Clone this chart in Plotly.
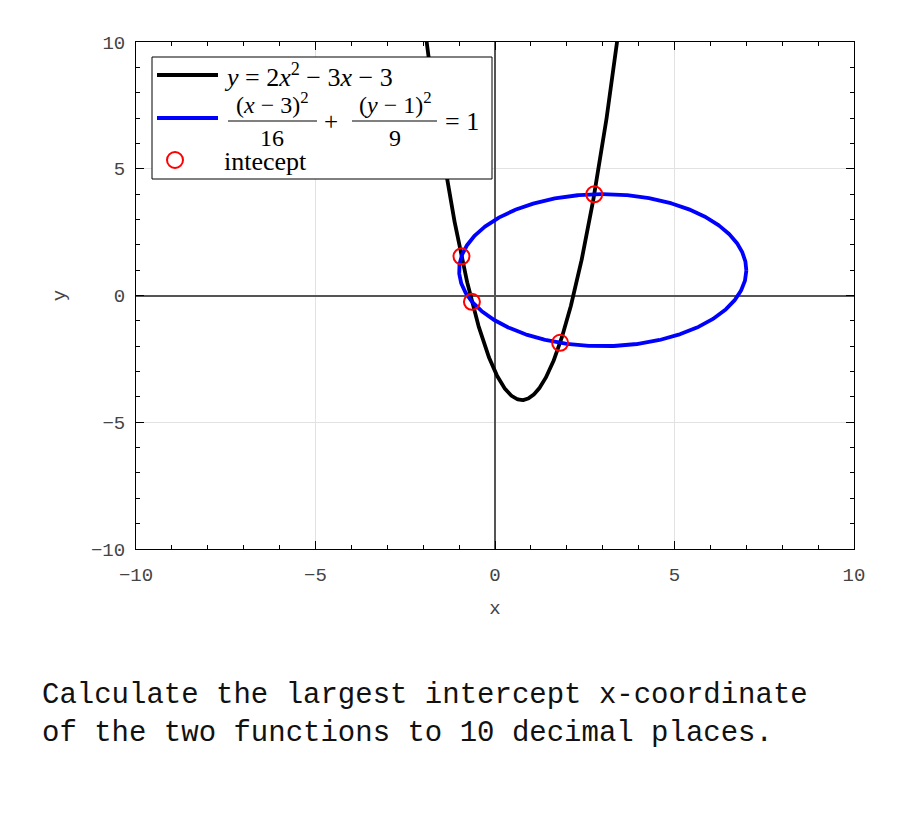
import numpy as np
import plotly.graph_objects as go

# Parabola y = a x^2 + b x + c
parab_coef = [2, -3, -3]
# Ellipse (x-h)^2/A + (y-k)^2/B = 1
ell_center = [3, 1]
ell_den = [16, 9]
# Intercept points
icpt_x = [-0.934, -0.643, 1.813, 2.765]
icpt_y = [1.545, -0.25, -1.865, 3.99]

xticks = [-10, -5, 0, 5, 10]
yticks = [-10, -5, 0, 5, 10]

a, b, c = parab_coef
px = np.linspace(-2.2, 3.7, 600)
py = a * px**2 + b * px + c

h, k = ell_center
t = np.linspace(0, 2 * np.pi, 800)
ex = h + np.sqrt(ell_den[0]) * np.cos(t)
ey = k + np.sqrt(ell_den[1]) * np.sin(t)

fig = go.Figure()
fig.add_trace(go.Scatter(x=px, y=py, mode="lines", line=dict(color="black", width=3.8), showlegend=False))
fig.add_trace(go.Scatter(x=ex, y=ey, mode="lines", line=dict(color="#0000ff", width=3.8), showlegend=False))
fig.add_trace(go.Scatter(x=icpt_x, y=icpt_y, mode="markers",
                         marker=dict(symbol="circle-open", size=16, color="#ff0000", line=dict(width=2)),
                         showlegend=False))

# reference plot-area pixel box
L, R, T, B = 136, 854, 42, 549
W, H = 900, 825
OFF = 8  # page body offset

def pxx(p):
    return (p - L) / (R - L)

def pxy(p):
    return (B - p) / (B - T)

shapes = []
ann = []
# legend box
shapes.append(dict(type="rect", xref="paper", yref="paper", x0=pxx(152), x1=pxx(492), y0=pxy(179), y1=pxy(57),
                   line=dict(color="black", width=1), fillcolor="white", layer="above"))
shapes.append(dict(type="line", xref="paper", yref="paper", x0=pxx(157), x1=pxx(218), y0=pxy(75), y1=pxy(75),
                   line=dict(color="black", width=3.8), layer="above"))
shapes.append(dict(type="line", xref="paper", yref="paper", x0=pxx(157), x1=pxx(218), y0=pxy(118), y1=pxy(118),
                   line=dict(color="#0000ff", width=3.8), layer="above"))
shapes.append(dict(type="circle", xref="paper", yref="paper", xsizemode="pixel", ysizemode="pixel",
                   xanchor=pxx(175), yanchor=pxy(160), x0=-8, x1=8, y0=-8, y1=8,
                   line=dict(color="#ff0000", width=2), layer="above"))
# fraction bars
shapes.append(dict(type="line", xref="paper", yref="paper", x0=pxx(228), x1=pxx(317), y0=pxy(121), y1=pxy(121),
                   line=dict(color="black", width=1), layer="above"))
shapes.append(dict(type="line", xref="paper", yref="paper", x0=pxx(352), x1=pxx(437), y0=pxy(121), y1=pxy(121),
                   line=dict(color="black", width=1), layer="above"))

sf = dict(family="Liberation Serif", size=25, color="black")
def t_ann(text, x, y, xa="left", size=25):
    ann.append(dict(text=text, xref="paper", yref="paper", x=pxx(x), y=pxy(y), xanchor=xa, yanchor="middle",
                    showarrow=False, font=dict(sf, size=size)))

t_ann("<i>y</i> = 2<i>x</i><sup>2</sup> − 3<i>x</i> − 3", 222, 75, size=26)
t_ann("(<i>x</i> − 3)<sup>2</sup>", 272, 103, "center", size=24)
t_ann("16", 272, 138, "center", size=24)
t_ann("+", 331, 121, "center", size=25)
t_ann("(<i>y</i> − 1)<sup>2</sup>", 395, 103, "center", size=24)
t_ann("9", 395, 138, "center", size=24)
t_ann("= 1", 443, 121, size=26)
t_ann("intecept", 222, 161, size=26)

# question text
qf = dict(family="Liberation Mono", size=29, color="#111111")
ann.append(dict(text="Calculate the largest intercept x-coordinate<br>of the two functions to 10 decimal places.",
                xref="paper", yref="paper", x=pxx(40), y=pxy(714), xanchor="left", yanchor="middle",
                align="left", showarrow=False, font=qf))

tickfont = dict(family="Liberation Mono", size=19, color="#444444")
axis_common = dict(range=[-10, 10], showgrid=True, gridcolor="#e2e2e2", gridwidth=1,
                   zeroline=True, zerolinecolor="#555555", zerolinewidth=1.5,
                   showline=True, linecolor="black", linewidth=1, mirror="allticks",
                   ticks="inside", ticklen=8, tickcolor="black", tickfont=tickfont,
                   minor=dict(ticks="inside", ticklen=4, dtick=1, tickcolor="black", showgrid=False))
fig.update_xaxes(**axis_common, tickvals=xticks, ticklabelstandoff=8,
                 title=dict(text="x", font=dict(family="Liberation Mono", size=19, color="#444444"), standoff=14))
fig.update_yaxes(**axis_common, tickvals=yticks, ticklabelstandoff=6,
                 title=dict(text="y", font=dict(family="Liberation Mono", size=19, color="#444444"), standoff=20))

fig.update_layout(width=W, height=H, plot_bgcolor="white", paper_bgcolor="white",
                  margin=dict(l=L - OFF, r=W - R + OFF, t=T - OFF, b=H - B + OFF),
                  shapes=shapes, annotations=ann, showlegend=False)

fig.write_html("out.html")
